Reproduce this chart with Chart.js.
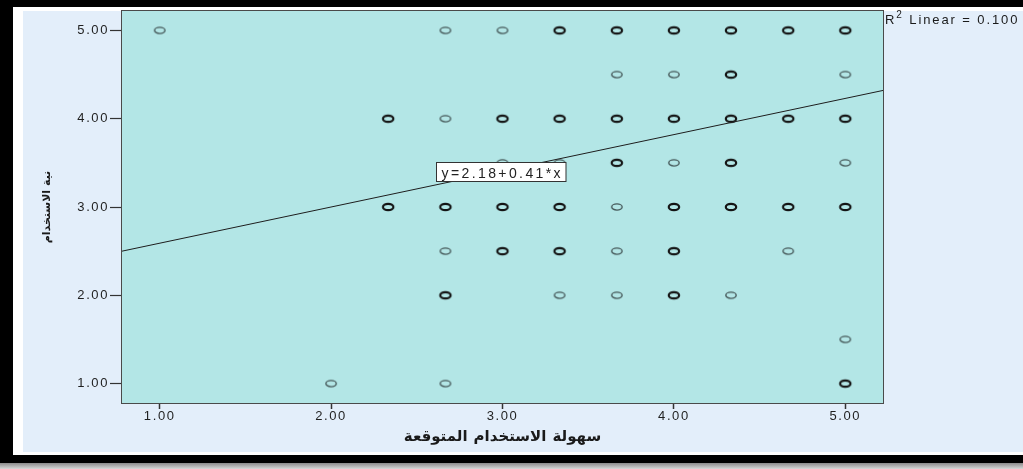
<!DOCTYPE html>
<html><head><meta charset="utf-8">
<script src="https://cdn.jsdelivr.net/npm/chart.js@4.4.1/dist/chart.umd.min.js"></script>
<style>
html,body{margin:0;padding:0;width:1023px;height:469px;overflow:hidden;background:#fff;}
#frame{position:absolute;left:0;top:0;width:1023px;height:463px;background:#000;}
#shadow{position:absolute;left:0;top:463px;width:1023px;height:6px;background:linear-gradient(#8a8a8a,#d8d8d8);}
#white{position:absolute;left:13px;top:7px;width:1010px;height:448px;background:#fff;}
#blue{position:absolute;left:23px;top:11px;width:1000px;height:441px;background:#e3eefa;}
#wrap{position:absolute;left:0;top:0;width:1023px;height:469px;}
</style></head>
<body>
<div id="frame"></div><div id="shadow"></div><div id="white"></div><div id="blue"></div>
<div id="wrap"><canvas id="c" width="1023" height="469"></canvas></div>
<script>
// ---- data ----
const xTicks = [1, 2, 3, 4, 5];
const yTicks = [1, 2, 3, 4, 5];
const xTitle = 'سهولة الاستخدام المتوقعة';
const yTitle = 'نية الاستخدام';
// single observations (thin circles)
const thinX = [1.00, 2.667, 3.00, 2.667, 3.667, 4.00, 5.00, 4.00, 5.00, 3.00, 3.333, 3.667, 2.667, 3.667, 4.667, 3.333, 3.667, 4.333, 5.00, 2.00, 2.667];
const thinY = [5.0, 5.0, 5.0, 4.0, 4.5, 4.5, 4.5, 3.5, 3.5, 3.5, 3.5, 3.0, 2.5, 2.5, 2.5, 2.0, 2.0, 2.0, 1.5, 1.0, 1.0];
// overlapping observations (bold circles)
const boldX = [3.333, 3.667, 4.00, 4.333, 4.667, 5.00, 4.333, 2.333, 3.00, 3.333, 3.667, 4.00, 4.333, 4.667, 5.00, 3.667, 4.333, 2.333, 2.667, 3.00, 3.333, 4.00, 4.333, 4.667, 5.00, 3.00, 3.333, 4.00, 2.667, 4.00, 5.00];
const boldY = [5.0, 5.0, 5.0, 5.0, 5.0, 5.0, 4.5, 4.0, 4.0, 4.0, 4.0, 4.0, 4.0, 4.0, 4.0, 3.5, 3.5, 3.0, 3.0, 3.0, 3.0, 3.0, 3.0, 3.0, 3.0, 2.5, 2.5, 2.5, 2.0, 2.0, 1.0];
const fitIntercept = 2.18;
const fitSlope = 0.41;
const fitLabel = 'y=2.18+0.41*x';
const r2Value = '0.100';

// ---- styles ----
function ellipse(color, lw) {
  const c = document.createElement('canvas');
  c.width = 16; c.height = 12;
  const g = c.getContext('2d');
  g.strokeStyle = color; g.lineWidth = lw;
  g.beginPath(); g.ellipse(8, 6, 5.2, 3.1, 0, 0, Math.PI * 2); g.stroke();
  return c;
}
const thinPt = ellipse('#46595a', 1.4);
const boldPt = ellipse('#141414', 2.2);

const toPts = (xs, ys) => xs.map((x, i) => ({x: x, y: ys[i]}));
const tickFont = {family: 'Liberation Sans', size: 13};

const spss = {
  id: 'spss',
  beforeDraw(chart) {
    const {ctx, chartArea: a} = chart;
    ctx.save();
    ctx.fillStyle = '#b3e6e6';
    ctx.fillRect(a.left, a.top, a.right - a.left, a.bottom - a.top);
    ctx.restore();
    ctx.letterSpacing = '1.6px';
  },
  afterDraw(chart) {
    const {ctx, chartArea: a, scales: {x, y}} = chart;
    ctx.save();
    // fit line
    ctx.beginPath();
    ctx.rect(a.left, a.top, a.right - a.left, a.bottom - a.top);
    ctx.clip();
    ctx.strokeStyle = '#1e1e1e'; ctx.lineWidth = 1;
    ctx.beginPath();
    ctx.moveTo(x.getPixelForValue(x.min), y.getPixelForValue(fitIntercept + fitSlope * x.min));
    ctx.lineTo(x.getPixelForValue(x.max), y.getPixelForValue(fitIntercept + fitSlope * x.max));
    ctx.stroke();
    // label box
    ctx.letterSpacing = '2.4px';
    ctx.font = '14px "Liberation Sans"';
    const bx = Math.round(x.getPixelForValue(2.61)) + 0.5;
    const by = Math.round(y.getPixelForValue(3.40) - 9.5) + 0.5;
    const tw = ctx.measureText(fitLabel).width;
    ctx.fillStyle = '#fff'; ctx.strokeStyle = '#333';
    ctx.fillRect(bx, by, tw + 8, 19);
    ctx.strokeRect(bx, by, tw + 8, 19);
    ctx.fillStyle = '#222'; ctx.textBaseline = 'alphabetic'; ctx.textAlign = 'left';
    ctx.fillText(fitLabel, bx + 5, by + 15);
    ctx.restore();
    ctx.save();
    // border
    ctx.strokeStyle = '#4a4a4a'; ctx.lineWidth = 1;
    ctx.strokeRect(Math.round(a.left) - 0.5, Math.round(a.top) - 0.5, Math.round(a.right - a.left) + 1, Math.round(a.bottom - a.top) + 1);
    // R2 text
    ctx.letterSpacing = '1.9px';
    ctx.fillStyle = '#1a1a1a'; ctx.textAlign = 'left'; ctx.textBaseline = 'alphabetic';
    let tx = a.right + 2;
    ctx.font = '13px "Liberation Sans"';
    ctx.fillText('R', tx, 24); tx += ctx.measureText('R').width;
    ctx.font = '10px "Liberation Sans"';
    ctx.fillText('2', tx, 18); tx += ctx.measureText('2').width;
    ctx.font = '13px "Liberation Sans"';
    ctx.fillText(' Linear = ' + r2Value, tx, 24);
    // axis titles
    ctx.letterSpacing = '0.8px';
    ctx.font = 'bold 15px "DejaVu Sans"';
    ctx.textAlign = 'center'; ctx.textBaseline = 'middle';
    ctx.fillText(xTitle, (a.left + a.right) / 2, 437);
    ctx.save();
    ctx.translate(47, (a.top + a.bottom) / 2);
    ctx.rotate(-Math.PI / 2);
    ctx.letterSpacing = '0px';
    ctx.font = 'bold 11px "DejaVu Sans"';
    ctx.fillText(yTitle, 0, 0);
    ctx.restore();
    ctx.restore();
  }
};

new Chart(document.getElementById('c'), {
  type: 'scatter',
  data: {
    datasets: [
      {data: toPts(thinX, thinY), pointStyle: thinPt, pointRadius: 6, pointHoverRadius: 6},
      {data: toPts(boldX, boldY), pointStyle: boldPt, pointRadius: 6, pointHoverRadius: 6}
    ]
  },
  options: {
    responsive: false,
    animation: false,
    devicePixelRatio: 1,
    layout: {padding: {left: 23, top: 11, right: 140, bottom: 17}},
    plugins: {legend: {display: false}, tooltip: {enabled: false}},
    scales: {
      x: {
        type: 'linear', min: 0.78, max: 5.22,
        afterBuildTicks: s => { s.ticks = xTicks.map(v => ({value: v})); },
        afterFit: s => { s.height = 49; },
        ticks: {callback: v => Number(v).toFixed(2), font: tickFont, color: '#1f1f1f', padding: 0, maxRotation: 0},
        grid: {drawOnChartArea: false, drawTicks: true, tickLength: 6, tickColor: '#333', tickWidth: 1.5},
        border: {display: false},
        title: {display: false}
      },
      y: {
        type: 'linear', min: 0.78, max: 5.22,
        afterBuildTicks: s => { s.ticks = yTicks.map(v => ({value: v})); },
        afterFit: s => { s.width = 99; },
        ticks: {callback: v => Number(v).toFixed(2), font: tickFont, color: '#1f1f1f', padding: 1},
        grid: {drawOnChartArea: false, drawTicks: true, tickLength: 12, tickColor: '#333', tickWidth: 1.2},
        border: {display: false},
        title: {display: false}
      }
    }
  },
  plugins: [spss]
});
</script>
</body></html>
